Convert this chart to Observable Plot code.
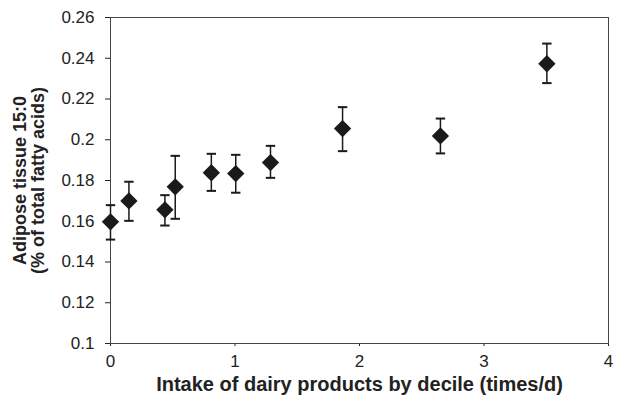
<!DOCTYPE html>
<html><head><meta charset="utf-8">
<script src="https://cdn.jsdelivr.net/npm/d3@7"></script>
<script src="https://cdn.jsdelivr.net/npm/@observablehq/plot@0.6"></script>
<style>body{margin:0;background:#fff}</style>
</head><body><div id="chart"></div>
<script>
const intake = [0.0, 0.148, 0.437, 0.52, 0.81, 1.006, 1.285, 1.864, 2.65, 3.505];
const meanC15 = [0.1597, 0.1700, 0.1656, 0.1769, 0.1838, 0.1834, 0.1888, 0.2055, 0.2019, 0.2373];
const upperC15 = [0.1679, 0.1794, 0.1728, 0.1921, 0.1931, 0.1926, 0.1970, 0.2160, 0.2104, 0.2472];
const lowerC15 = [0.1510, 0.1602, 0.1579, 0.1612, 0.1749, 0.1740, 0.1813, 0.1944, 0.1933, 0.2278];
const xTicks = [0, 1, 2, 3, 4];
const yTicks = [0.1, 0.12, 0.14, 0.16, 0.18, 0.2, 0.22, 0.24, 0.26];
const xTitle = "Intake of dairy products by decile (times/d)";
const yTitle = "Adipose tissue 15:0\n(% of total fatty acids)";

const rows = intake.map((x, i) => ({x, m: meanC15[i], hi: upperC15[i], lo: lowerC15[i]}));
const caps = rows.flatMap(d => [{x: d.x, y: d.hi}, {x: d.x, y: d.lo}]);

const capSymbol = {draw(ctx, size) { const w = Math.sqrt(size / Math.PI); ctx.moveTo(-w, 0); ctx.lineTo(w, 0); }};
const ink = "#1a1a1a";

const chart = Plot.plot({
  width: 620, height: 406,
  marginLeft: 110, marginRight: 12, marginTop: 17, marginBottom: 63,
  style: {fontFamily: "'Liberation Sans', Arial, sans-serif", fontSize: "17px", color: "#222", background: "#fff"},
  x: {domain: [0, 4], ticks: xTicks, tickSize: 3, tickPadding: 8, label: null, tickFormat: d => String(d)},
  y: {domain: [0.1, 0.26], ticks: yTicks, tickSize: 5, tickPadding: 11, label: null, tickFormat: d => String(+d.toFixed(2))},
  marks: [
    Plot.frame({stroke: "#444"}),
    Plot.ruleX(rows, {x: "x", y1: "lo", y2: "hi", stroke: ink, strokeWidth: 1.5}),
    Plot.dot(caps, {x: "x", y: "y", symbol: capSymbol, r: 4.7, stroke: ink, fill: "none", strokeWidth: 2}),
    Plot.dot(rows, {x: "x", y: "m", symbol: "diamond2", r: 7.8, fill: ink, stroke: "none"}),
    Plot.text([xTitle], {text: d => d, frameAnchor: "bottom", dy: 47, lineAnchor: "bottom", fontWeight: "bold", fontSize: 20, fill: "#222"}),
    Plot.text([yTitle], {text: d => d, frameAnchor: "left", dx: -97, rotate: -90, lineAnchor: "top", textAnchor: "middle", lineHeight: 1.0, fontWeight: "bold", fontSize: 18, fill: "#222"})
  ]
});
document.getElementById("chart").appendChild(chart);
</script>
</body></html>
